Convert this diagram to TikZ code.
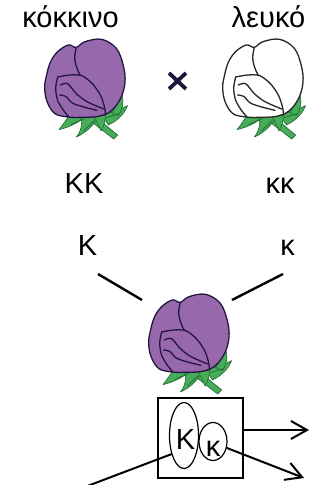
\documentclass[tikz,border=0pt]{standalone}
\usepackage{fontspec}
\setmainfont{Liberation Sans}
\usetikzlibrary{arrows.meta,shapes.geometric,calc}

\definecolor{bloompurple}{RGB}{152,104,172}
\definecolor{bloomline}{RGB}{36,22,66}
\definecolor{leafgreen}{RGB}{70,172,88}
\definecolor{leafline}{RGB}{30,104,50}
\definecolor{crossnavy}{RGB}{24,24,58}

\tikzset{
  petal/.style={fill=bloompurple, draw=bloomline},
  crease/.style={draw=bloomline},
  leaf/.style={fill=leafgreen, draw=leafline, line width=0.6pt},
  txt/.style={font=\fontsize{29}{34}\selectfont, inner sep=0pt, anchor=base},
  stroke/.style={line width=2.4pt},
  arr/.style={line width=2pt, -{Straight Barb[length=16pt,width=18pt]}},
  flower/.pic={
    \begin{scope}[x=0.3333pt, y=-0.3333pt, line join=round, line cap=round]
      % stem
      \path[leaf] (170,236) -- (248,300) -- (236,312) -- (156,250) -- cycle;
      % sepals
      \path[leaf] (108,230) .. controls (96,252) and (86,266) .. (72,284)
        .. controls (104,276) and (130,264) .. (148,246) -- cycle;
      \path[leaf] (134,240) .. controls (144,266) and (140,286) .. (124,306)
        .. controls (156,292) and (176,270) .. (190,244) -- cycle;
      \path[leaf] (196,232) .. controls (232,230) and (254,224) .. (278,212)
        .. controls (266,240) and (246,258) .. (220,270) -- cycle;
      \path[leaf] (216,226) .. controls (236,210) and (248,194) .. (258,172)
        .. controls (268,198) and (264,222) .. (250,242) -- cycle;
      \path[leaf] (172,240) .. controls (184,256) and (192,270) .. (198,288)
        .. controls (208,270) and (212,256) .. (210,240) -- cycle;
      % veins
      \draw[leafline, line width=0.7pt] (150,250) -- (108,268) (176,258) -- (146,288)
        (214,248) -- (252,236) (230,232) -- (252,196);
      % bloom outline
      \path[petal, line width=1.3pt] plot[smooth cycle, tension=0.6] coordinates {
        (33,128) (46,82) (68,50) (100,30) (124,37) (150,20) (200,13)
        (244,40) (265,92) (270,142) (257,190) (228,228) (190,244)
        (140,247) (100,246) (60,236) (37,202) (29,162)};
      % central crease
      \path[crease, line width=1.3pt] plot[smooth, tension=0.6] coordinates {
        (124,37) (119,70) (126,100) (136,121)};
      % outer folded petal
      \path[crease, line width=1.3pt] plot[smooth, tension=0.5] coordinates {
        (68,126) (104,120) (140,122) (172,146) (196,180) (208,214) (212,240)};
      \path[crease, line width=1.3pt] plot[smooth, tension=0.5] coordinates {
        (68,126) (62,160) (68,196) (84,224) (100,244)};
      % inner folds
      \path[crease, line width=1.3pt] plot[smooth, tension=0.5] coordinates {
        (76,150) (98,146) (124,176) (156,200) (206,222)};
      \path[crease, line width=1.3pt] plot[smooth, tension=0.5] coordinates {
        (74,180) (92,184) (112,204) (146,216) (186,226)};
    \end{scope}
  }
}

\begin{document}
\begin{tikzpicture}[x=1pt, y=-1pt]
  \useasboundingbox (0,0) rectangle (327,485);

  % parents
  \node[txt] (red) at (70.5,27) {κόκκινο};
  \node[txt] (white) at (268.5,27) {λευκό};
  \pic at (35,35) {flower};
  \pic[petal/.style={fill=white, draw=black!85}, crease/.style={draw=black!85}] at (213,35) {flower};
  \draw[crossnavy, line width=3.8pt] (169,73) -- (186,89) (169,89) -- (186,73);

  % genotypes and gametes
  \node[txt] (gRed) at (84,193) {ΚΚ};
  \node[txt] (gWhite) at (280,193) {κκ};
  \node[txt] (aK) at (87.5,255) {Κ};
  \node[txt] (ak) at (287.5,255) {κ};
  \coordinate (kFrom) at (98,274);
  \coordinate (kTo) at (142,300);
  \coordinate (lFrom) at (283,274);
  \coordinate (lTo) at (232,300);
  \draw[stroke] (kFrom) -- (kTo);
  \draw[stroke] (lFrom) -- (lTo);

  % hybrid
  \pic at (139,290) {flower};

  % genotype of the hybrid
  \node[draw, line width=2pt, minimum width=85pt, minimum height=80pt, inner sep=0pt]
    (box) at (200,438) {};
  \node[draw, ellipse, line width=1.2pt, minimum width=29pt, minimum height=66pt, inner sep=0pt]
    (ke) at (184,435.5) {};
  \node[draw, ellipse, line width=1.2pt, minimum width=28pt, minimum height=38pt, inner sep=0pt]
    (kc) at (213,441.5) {};
  \node[txt] (kBig) at (185.5,449) {Κ};
  \node[txt] (kSmall) at (213,456) {κ};

  \coordinate (tipA) at (309,430);
  \coordinate (tipB) at (304,478);
  \coordinate (low) at (40,504);
  \draw[arr] ($(box.east)+(0,-8)$) -- (tipA);
  \draw[arr] (kc.-25) -- (tipB);
  \draw[line width=2pt] (ke.-124) -- (low);
\end{tikzpicture}
\end{document}
